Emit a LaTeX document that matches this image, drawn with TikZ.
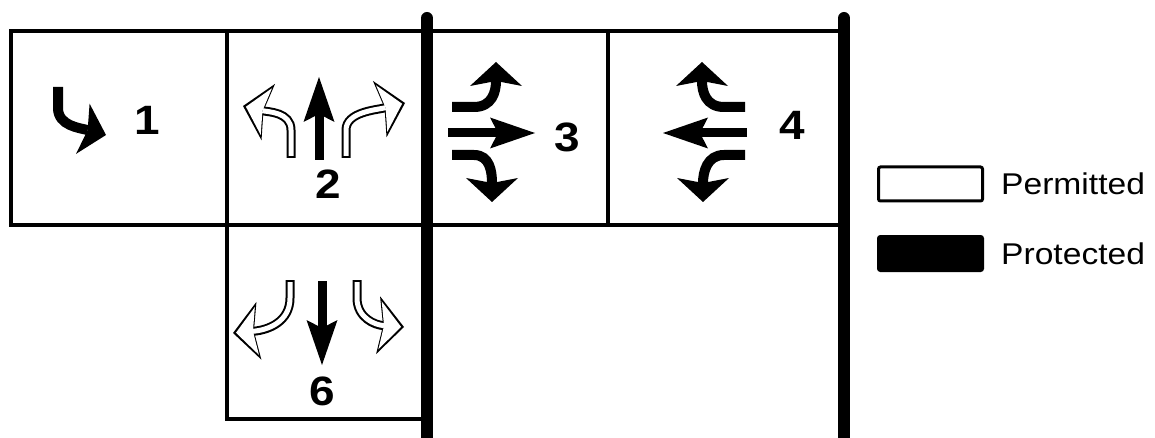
\documentclass[tikz,border=0pt]{standalone}
\usepackage{fontspec}
\setmainfont{Liberation Sans}[FakeStretch=1.12]
\usetikzlibrary{positioning,arrows.meta}

\tikzset{
  lane/.style={line width=4pt},
  bar/.style={line width=12pt, line cap=round},
  go/.style={line width=9pt, -{Stealth[length=45pt,width=31pt,inset=8pt,line width=0pt]}},
  turn/.style={line width=10pt, -{Stealth[length=24pt,width=52pt,inset=5pt,line width=0pt]}},
  yield/.style={
    preaction={draw=black, line width=9pt, shorten >=0pt, shorten <=0pt,
      -{Stealth[length=26pt,width=58pt,inset=5pt,line width=0pt]}},
    draw=white, line width=5pt, shorten >=3pt, shorten <=2pt,
    -{Stealth[length=21pt,width=48pt,inset=4pt,line width=0pt]}},
  num/.style={font=\fontsize{41}{44}\selectfont\bfseries, inner sep=0pt},
  legbox/.style={draw, line width=3pt, rounded corners=2pt,
    minimum width=104pt, minimum height=34pt, inner sep=0pt},
  legtxt/.style={font=\fontsize{30}{34}\selectfont, inner sep=0pt},
}

\begin{document}
\begin{tikzpicture}[x=1pt, y=-1pt]
  \useasboundingbox (0,0) rectangle (1155,438);
  % phase boxes
  \draw[lane] (11,31) rectangle (844,225);
  \draw[lane] (227,31) -- (227,419) -- (427,419);
  \draw[lane] (608,31) -- (608,225);
  % barriers
  \draw[bar] (427,18) -- (427,460);
  \draw[bar] (844,18) -- (844,460);
  % phase 1
  \draw[turn] (58,87) -- (58,108) .. controls (58,126) and (80,128) .. (106,135);
  \node[num] (n1) at (147,120) {1};
  % phase 2
  \draw[go] (319,160) -- (319,77);
  \draw[yield] (291,158) -- (291,130) .. controls (291,112) and (268,112) .. (243,106);
  \draw[yield] (346,158) -- (346,130) .. controls (346,112) and (376,110) .. (405,103);
  \node[num] (n2) at (328,184) {2};
  % phase 3
  \draw[turn] (452,107) -- (474,107) .. controls (492,107) and (496,92) .. (496,62);
  \draw[go] (448,133) -- (535,133);
  \draw[turn] (452,155) -- (474,155) .. controls (490,155) and (492,172) .. (492,202);
  \node[num] (n3) at (567,137) {3};
  % phase 4
  \draw[turn] (745,107) -- (724,107) .. controls (706,107) and (702,92) .. (702,62);
  \draw[go] (747,133) -- (663,133);
  \draw[turn] (745,155) -- (724,155) .. controls (707,155) and (703,172) .. (703,202);
  \node[num] (n4) at (792,125) {4};
  % phase 6
  \draw[go] (322,281) -- (322,365);
  \draw[yield] (290,280) -- (290,298) .. controls (290,322) and (268,330) .. (233,333);
  \draw[yield] (357,280) -- (357,298) .. controls (357,318) and (375,325) .. (404,327);
  \node[num] (n6) at (322,391) {6};
  % legend
  \node[legbox, fill=white] (perm) at (930.5,184) {};
  \node[legbox, fill=black] (prot) at (930.5,253.5) {};
  \node[legtxt, right=17pt of perm] (permtxt) {Permitted};
  \node[legtxt, right=17pt of prot] (prottxt) {Protected};
\end{tikzpicture}
\end{document}
